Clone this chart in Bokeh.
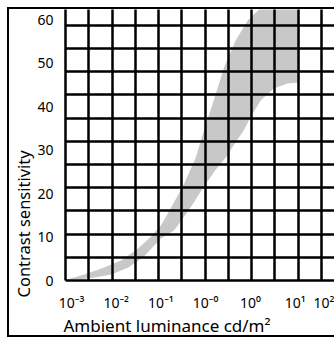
from bokeh.plotting import figure
from bokeh.models import Range1d, FixedTicker, Grid, Title
from bokeh.embed import file_html
from bokeh.resources import INLINE

# ---- data ----
x_ticks = [0, 1, 2, 3, 4, 5, 6]
x_tick_base = ["10", "10", "10", "10", "10", "10", "10"]
x_tick_exp = ["-3", "-2", "-1", "-0", "0", "1", "2"]
y_ticks = [0, 10, 20, 30, 40, 50, 60]
y_tick_labels = ["0", "10", "20", "30", "40", "50", "60"]

# grey band: upper/left edge (going up), then lower/right edge (coming back down)
upper_x = [-0.11, 0.22, 0.67, 1.11, 1.49, 1.78, 2.00, 2.23, 2.52, 2.78, 2.96, 3.18,
           3.41, 3.67, 3.94, 4.19, 4.37, 5.10]
upper_y = [0.23, 1.15, 2.76, 4.60, 7.36, 10.11, 12.64, 16.78, 22.30, 28.28, 34.48, 41.38,
           48.97, 55.17, 59.77, 62.30, 64.4, 64.4]
lower_x = [5.10, 5.08, 4.83, 4.52, 4.23, 4.01, 3.85, 3.65, 3.45, 3.21, 2.96, 2.72,
           2.49, 2.29, 2.00, 1.85, 1.60, 1.27, 0.89, 0.51, 0.22]
lower_y = [45.52, 45.52, 45.29, 44.14, 41.38, 37.70, 34.48, 31.49, 28.28, 25.29, 21.61, 17.70,
           14.25, 11.49, 9.66, 8.05, 5.29, 2.99, 1.38, 0.69, 0.34]

x_title = "Ambient luminance cd/m\u00b2"
y_title = "Contrast sensitivity"

FONT = "Noto Sans"
SUP = str.maketrans("-0123456789", "\u207b\u2070\u00b9\u00b2\u00b3\u2074\u2075\u2076\u2077\u2078\u2079")

# geometry (pixels)
W, H = 327, 330
LEFT, BOTTOM = 55, 59
frame_w, frame_h = W - LEFT, H - BOTTOM
px_x, px_y = 44.9, 4.35         # pixels per data unit
x0 = -6 / px_x                  # frame starts a little left of the first tick
cell_w, cell_h = 23.35, 23.2    # grid cell size in pixels

p = figure(width=W, height=H, output_backend="svg", toolbar_location=None,
           x_range=Range1d(x0, x0 + frame_w / px_x), y_range=Range1d(0, frame_h / px_y),
           min_border_left=LEFT, min_border_right=0, min_border_top=0, min_border_bottom=BOTTOM)
p.styles = {"position": "absolute", "left": "7px", "top": "7px",
            "border-left": "2px solid black", "border-top": "2px solid black",
            "border-bottom": "2px solid black"}
p.background_fill_color = "white"
p.border_fill_color = "white"
p.outline_line_color = None
p.grid.visible = False

# band
p.patch(upper_x + lower_x, upper_y + lower_y, fill_color="#c8c8c8", line_color=None)

# cell grid on its own ranges, drawn over the band
p.extra_x_ranges = {"cells": Range1d(0, frame_w / cell_w)}
p.extra_y_ranges = {"cells": Range1d(0, frame_h / cell_h)}
for dim, key in ((0, "x_range_name"), (1, "y_range_name")):
    g = Grid(dimension=dim, ticker=FixedTicker(ticks=list(range(13))),
             grid_line_color="black", grid_line_width=2.5, level="guide", **{key: "cells"})
    p.add_layout(g)

# axes
for ax in (p.xaxis[0], p.yaxis[0]):
    ax.axis_line_color = "black"
    ax.axis_line_width = 2.5
    ax.major_tick_line_color = None
    ax.minor_tick_line_color = None
    ax.major_label_text_font = FONT
    ax.major_label_text_font_size = "14px"
    ax.major_label_text_color = "black"

p.yaxis.ticker = FixedTicker(ticks=y_ticks)
p.yaxis.major_label_overrides = dict(zip(y_ticks, y_tick_labels))
p.yaxis.major_label_standoff = 6

# the last x label is squeezed inside the frame edge, as in the reference
x_end = x0 + frame_w / px_x
x_locs = [min(t, x_end - 0.25) for t in x_ticks]
p.xaxis.ticker = FixedTicker(ticks=x_locs)
p.xaxis.major_label_overrides = {loc: b + e.translate(SUP)
                                 for loc, b, e in zip(x_locs, x_tick_base, x_tick_exp)}
p.xaxis.major_label_standoff = 6

# axis titles (as side-panel titles so that they can be placed like the reference)
p.add_layout(Title(text=x_title, align="left", offset=-2, standoff=-2, vertical_align="top",
                   text_font=FONT, text_font_style="normal", text_font_size="17px",
                   text_color="black"), "below")
p.add_layout(Title(text=y_title, align="left", offset=-17, standoff=0,
                   text_font=FONT, text_font_style="normal", text_font_size="16.5px",
                   text_color="black"), "left")

open("out.html", "w").write(file_html(p, INLINE))
